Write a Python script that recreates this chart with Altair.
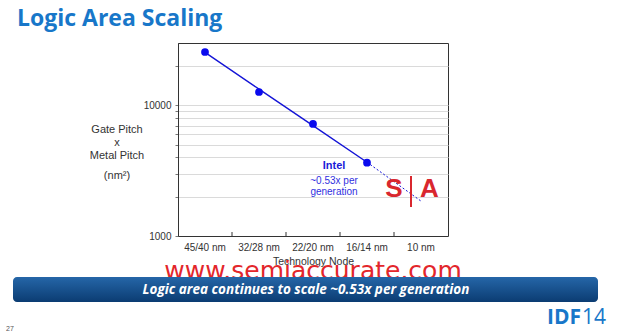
import altair as alt
import pandas as pd

# ---- data ----
nodes = ["45/40 nm", "32/28 nm", "22/20 nm", "16/14 nm", "10 nm"]
measured_nodes = ["45/40 nm", "32/28 nm", "22/20 nm", "16/14 nm"]
measured = [25600, 12650, 7200, 3640]
trend_nodes = ["45/40 nm", "32/28 nm", "22/20 nm", "16/14 nm"]
trend_vals = [25400, 13300, 7000, 3670]
proj_nodes = ["16/14 nm", "10 nm"]
proj_vals = [3670, 1850]
tick_nodes = ["32/28 nm", "22/20 nm", "16/14 nm", "10 nm"]
y_grid = [1000, 2000, 3000, 4000, 5000, 6000, 7000, 8000, 9000, 10000, 20000]
y_labels = [1000, 10000]

W, H = 270, 193
BLUE = "#1414d6"
GRAY = "#333333"

df_meas = pd.DataFrame({"node": measured_nodes, "v": measured})
df_trend = pd.DataFrame({"node": trend_nodes, "v": trend_vals})
df_proj = pd.DataFrame({"node": proj_nodes, "v": proj_vals})
df_ticks = pd.DataFrame({"node": tick_nodes})
one = pd.DataFrame({"a": [0]})

xscale = alt.Scale(type="band", domain=nodes, paddingInner=0, paddingOuter=0)
xaxis = alt.Axis(title="Technology Node", ticks=False, tickSize=0, labelPadding=6,
                 labelAngle=0, labelFontSize=10, labelColor=GRAY,
                 titleFontSize=10.5, titleFontWeight="normal", titleColor=GRAY,
                 titlePadding=4, domainColor=GRAY, grid=False)
yscale = alt.Scale(type="log", domain=[1000, 30000])
label_test = " || ".join(f"datum.value == {v}" for v in y_labels)
yaxis = alt.Axis(title=None, values=y_grid, format="d",
                 labelExpr=f"({label_test}) ? datum.label : ''",
                 labelFontSize=10, labelColor=GRAY, tickSize=3, tickColor="#777",
                 labelPadding=4, grid=True, gridColor="#dadada", domainColor=GRAY)

X = alt.X("node:N", scale=xscale, axis=xaxis)
Y = alt.Y("v:Q", scale=yscale, axis=yaxis)

trend = alt.Chart(df_trend).mark_line(color=BLUE, strokeWidth=1.4).encode(x=X, y=Y)
proj = alt.Chart(df_proj).mark_line(color=BLUE, strokeWidth=1, strokeDash=[2, 2]).encode(x=X, y=Y)
pts = alt.Chart(df_meas).mark_point(filled=True, opacity=1, color="#0a0aee", size=60).encode(x=X, y=Y)
xticks = alt.Chart(df_ticks).mark_rule(color=GRAY, strokeWidth=1).encode(
    x=alt.X("node:N", scale=xscale, axis=xaxis, bandPosition=0),
    y=alt.value(H), y2=alt.value(H - 4))


def txt(text, x, y, size, color, weight="normal", style="normal", align="center",
        font="Liberation Sans", baseline="middle"):
    return alt.Chart(one).mark_text(text=text, fontSize=size, color=color, fontWeight=weight,
                                    fontStyle=style, align=align, font=font,
                                    baseline=baseline).encode(x=alt.value(x), y=alt.value(y))


annots = [
    txt("Intel", 156, 123, 11, "#1a1ad8", weight="bold"),
    txt("~0.53x per", 156, 137.5, 10, "#3030e0"),
    txt("generation", 156, 149, 10, "#3030e0"),
    txt("Gate Pitch", -61, 87, 11, GRAY),
    txt("x", -61, 100, 11, GRAY),
    txt("Metal Pitch", -61, 112.5, 11, GRAY),
    txt("(nm²)", -61, 132.5, 11, GRAY),
    txt("S", 216, 154, 26, "#d9272e", weight="bold", baseline="alphabetic"),
    txt("A", 251.5, 154, 26, "#d9272e", weight="bold", baseline="alphabetic"),
    txt("Logic Area Scaling", -161, -17, 23, "#1877c9", weight="bold", align="left",
        font="Open Sans", baseline="alphabetic"),
    txt("www.semiaccurate.com", 135, 236, 25, "#e3262b", font="DejaVu Sans",
        baseline="alphabetic"),
]
sa_bar = alt.Chart(one).mark_rule(color="#d9272e", strokeWidth=2).encode(
    x=alt.value(233), y=alt.value(133), y2=alt.value(164))

banner_grad = alt.Gradient(gradient="linear",
                           stops=[alt.GradientStop(color="#2566a8", offset=0),
                                  alt.GradientStop(color="#0b3c72", offset=1)],
                           x1=0, x2=0, y1=0, y2=1)
banner = alt.Chart(one).mark_rect(fill=banner_grad, cornerRadius=4).encode(
    x=alt.value(-165), x2=alt.value(420), y=alt.value(234), y2=alt.value(259))
banner_txt = txt("Logic area continues to scale ~0.53x per generation", 128, 247, 13.5,
                 "white", weight="bold", style="italic", font="Open Sans")
page = txt("27", -168, 286, 7, "#555555")
idf = txt("IDF", 369, 281, 21, "#1877c9", weight="bold", align="left", font="Open Sans",
          baseline="alphabetic")
idf14 = txt("14", 404, 281, 21, "#1877c9", align="left", font="Open Sans",
            baseline="alphabetic")

chart = alt.layer(trend, proj, pts, xticks, *annots, sa_bar, banner, banner_txt, page, idf,
                  idf14).properties(
    width=W, height=H,
    autosize=alt.AutoSizeParams(type="none"),
    padding={"left": 178, "top": 43, "right": 169, "bottom": 100},
    background="white",
).configure_view(stroke=GRAY, strokeWidth=1).configure_axis(
    labelFont="Liberation Sans", titleFont="Liberation Sans")

chart.save("out.html", embed_options={"renderer": "svg", "actions": False})
